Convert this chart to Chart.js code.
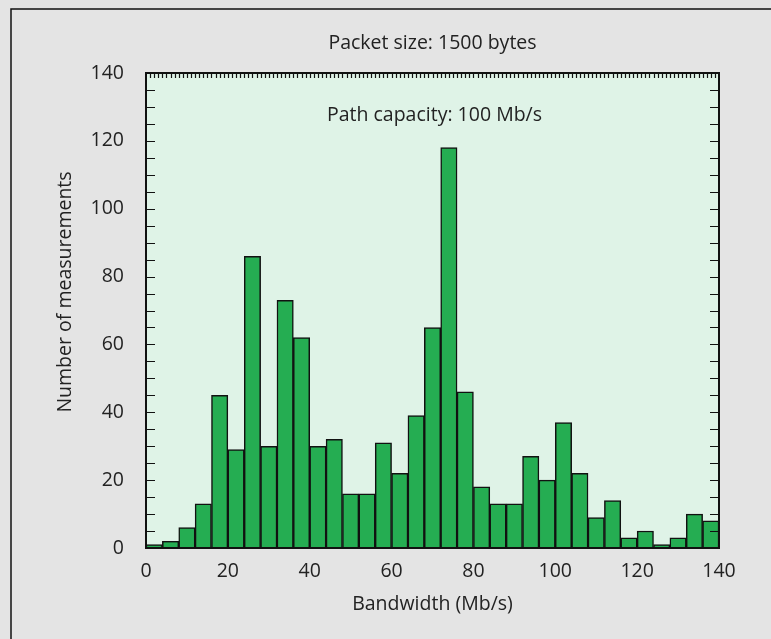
<!DOCTYPE html>
<html>
<head>
<meta charset="utf-8">
<script src="https://cdn.jsdelivr.net/npm/chart.js@4.4.1/dist/chart.umd.min.js"></script>
<style>
  html, body { margin: 0; padding: 0; background: #e4e4e4; }
  canvas { display: block; }
</style>
</head>
<body>
<canvas id="histChart" width="771" height="639"></canvas>
<script>
const binStarts = [0, 4, 8, 12, 16, 20, 24, 28, 32, 36, 40, 44, 48, 52, 56, 60, 64, 68,
                   72, 76, 80, 84, 88, 92, 96, 100, 104, 108, 112, 116, 120, 124, 128, 132, 136];
const counts = [1, 2, 6, 13, 45, 29, 86, 30, 73, 62, 30, 32, 16, 16, 31, 22, 39, 65,
                118, 46, 18, 13, 13, 27, 20, 37, 22, 9, 14, 3, 5, 1, 3, 10, 8];
const binWidth = 4;
const xTicks = [0, 20, 40, 60, 80, 100, 120, 140];
const yTicks = [0, 20, 40, 60, 80, 100, 120, 140];

const FONT = '"Open Sans", Lato, sans-serif';
const FSIZE = 19.5;

const frame = {
  id: 'frame',
  beforeDraw(chart) {
    const { ctx, chartArea: a } = chart;
    ctx.save();
    ctx.fillStyle = '#e4e4e4';
    ctx.fillRect(0, 0, chart.width, chart.height);
    ctx.strokeStyle = '#111';
    ctx.lineWidth = 1.5;
    ctx.strokeRect(11, 9, chart.width + 20, chart.height + 20);
    ctx.fillStyle = '#dff3e7';
    ctx.fillRect(a.left, a.top, a.right - a.left, a.bottom - a.top);
    ctx.restore();
  },
  afterDraw(chart) {
    const { ctx, chartArea: a, scales } = chart;
    const x = scales.x, y = scales.y;
    ctx.save();
    ctx.strokeStyle = '#111';
    ctx.lineWidth = 1.2;
    ctx.beginPath();
    // top minor ticks every 1 Mb/s
    for (let v = 1; v < 140; v++) {
      const px = Math.round(x.getPixelForValue(v)) + 0.5;
      ctx.moveTo(px, a.top);
      ctx.lineTo(px, a.top + 5);
    }
    // left / right ticks every 5
    for (let v = 5; v < 140; v += 5) {
      const py = Math.round(y.getPixelForValue(v)) + 0.5;
      ctx.moveTo(a.left, py);
      ctx.lineTo(a.left + 9, py);
      ctx.moveTo(a.right, py);
      ctx.lineTo(a.right - 9, py);
    }
    ctx.stroke();
    ctx.lineWidth = 2;
    ctx.strokeRect(a.left, a.top, a.right - a.left, a.bottom - a.top);

    ctx.fillStyle = '#222';
    ctx.font = FSIZE + 'px ' + FONT;
    ctx.textAlign = 'center';
    ctx.textBaseline = 'middle';
    const cx = (a.left + a.right) / 2;
    ctx.fillText('Packet size: 1500 bytes', cx, 43);
    ctx.fillText('Path capacity: 100 Mb/s', cx + 2, 115);
    ctx.fillText('Bandwidth (Mb/s)', cx, 604);
    ctx.translate(65, 292);
    ctx.rotate(-Math.PI / 2);
    ctx.fillText('Number of measurements', 0, 0);
    ctx.restore();
  }
};

new Chart(document.getElementById('histChart'), {
  type: 'bar',
  data: {
    datasets: [{
      data: binStarts.map((s, i) => ({ x: s + binWidth / 2, y: counts[i] })),
      backgroundColor: '#25ad52',
      borderColor: '#111',
      borderWidth: 1.5,
      barPercentage: 1,
      categoryPercentage: 1
    }]
  },
  options: {
    responsive: false,
    animation: false,
    layout: { padding: { top: 73, right: 52, left: 0, bottom: 0 } },
    plugins: { legend: { display: false }, tooltip: { enabled: false } },
    scales: {
      x: {
        type: 'linear',
        offset: false,
        min: 0, max: 140,
        afterFit: s => { s.height = 91; },
        afterBuildTicks: s => { s.ticks = xTicks.map(v => ({ value: v })); },
        grid: { display: false },
        border: { display: false },
        ticks: { color: '#222', padding: 4, font: { family: FONT, size: FSIZE } }
      },
      y: {
        min: 0, max: 140,
        afterFit: s => { s.width = 146; },
        afterBuildTicks: s => { s.ticks = yTicks.map(v => ({ value: v })); },
        grid: { display: false },
        border: { display: false },
        ticks: { color: '#222', padding: 14, font: { family: FONT, size: FSIZE } }
      }
    }
  },
  plugins: [frame]
});
</script>
</body>
</html>
